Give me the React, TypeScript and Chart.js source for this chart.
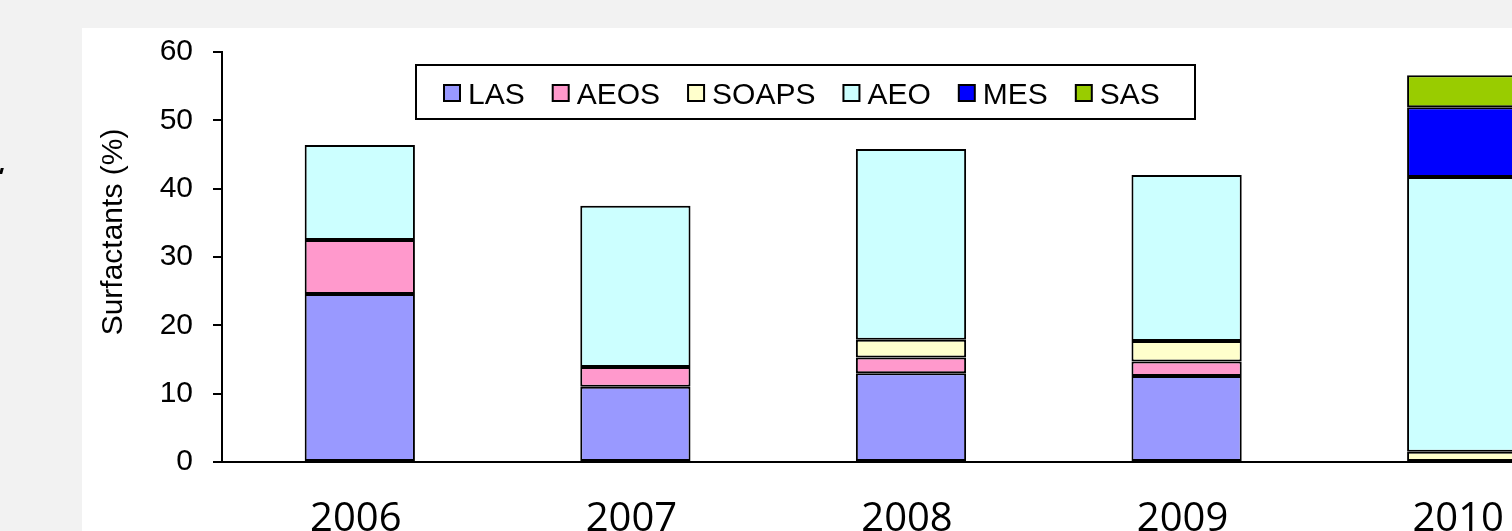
import React, { useEffect, useRef } from "react";
import { Chart, registerables } from "chart.js";

Chart.register(...registerables);

const years = ["2006", "2007", "2008", "2009", "2010"];
const LAS = [24.6, 11.0, 13.0, 12.6, null];
const AEOS = [7.9, 2.9, 2.3, 2.1, null];
const SOAPS = [null, null, 2.6, 3.0, 1.5];
const AEO = [13.9, 23.6, 27.9, 24.3, 40.2];
const MES = [null, null, null, null, 10.2];
const SAS = [null, null, null, null, 4.7];
const seriesNames = ["LAS", "AEOS", "SOAPS", "AEO", "MES", "SAS"];
const seriesValues = [LAS, AEOS, SOAPS, AEO, MES, SAS];
const seriesColors = ["#9999ff", "#ff99cc", "#ffffcc", "#ccffff", "#0000ff", "#99cc00"];
const yMin = 0;
const yMax = 60;
const yStep = 10;
const yTitle = "Surfactants (%)";

const ARIAL = '"Liberation Sans", Arial, sans-serif';

const legendPlugin = {
  id: "boxLegend",
  afterDraw(chart: any) {
    const { ctx, chartArea } = chart;
    ctx.save();
    const boxL = chartArea.left + 194;
    const boxT = chartArea.top + 13;
    const boxW = 779;
    const boxH = 54;
    ctx.fillStyle = "#ffffff";
    ctx.fillRect(boxL, boxT, boxW, boxH);
    ctx.strokeStyle = "#000000";
    ctx.lineWidth = 2;
    ctx.strokeRect(boxL, boxT, boxW, boxH);
    ctx.font = `30px ${ARIAL}`;
    ctx.textBaseline = "alphabetic";
    ctx.textAlign = "left";
    let x = boxL + 28;
    seriesNames.forEach((name, i) => {
      ctx.fillStyle = seriesColors[i];
      ctx.fillRect(x, boxT + 20, 16, 16);
      ctx.lineWidth = 2;
      ctx.strokeStyle = "#000000";
      ctx.strokeRect(x, boxT + 20, 16, 16);
      ctx.fillStyle = "#000000";
      const tx = x + 24;
      ctx.fillText(name, tx, boxT + 38.5);
      x = tx + ctx.measureText(name).width + 28;
    });
    ctx.restore();
  },
};

const yTitlePlugin = {
  id: "yTitleText",
  afterDraw(chart: any) {
    const { ctx } = chart;
    ctx.save();
    ctx.translate(32, 204);
    ctx.rotate(-Math.PI / 2);
    ctx.font = `30px ${ARIAL}`;
    ctx.fillStyle = "#000000";
    ctx.textAlign = "center";
    ctx.textBaseline = "middle";
    ctx.fillText(yTitle, 0, 0);
    ctx.restore();
  },
};

export default function App() {
  const canvasRef = useRef<HTMLCanvasElement | null>(null);

  useEffect(() => {
    if (!canvasRef.current) return;
    const chart = new Chart(canvasRef.current, {
      type: "bar",
      data: {
        labels: years,
        datasets: seriesNames.map((name, i) => ({
          label: name,
          data: seriesValues[i],
          backgroundColor: seriesColors[i],
          borderColor: "#000000",
          borderWidth: 2,
          borderSkipped: false,
          barPercentage: 0.4,
          categoryPercentage: 1,
        })),
      },
      options: {
        animation: false,
        responsive: true,
        maintainAspectRatio: false,
        layout: { padding: { left: 0, top: 24, right: 0, bottom: 0 } },
        plugins: {
          legend: { display: false },
          tooltip: { enabled: false },
          title: { display: false },
        },
        scales: {
          x: {
            stacked: true,
            grid: { display: false, drawTicks: false },
            border: { display: true, color: "#000000", width: 2 },
            ticks: {
              color: "#000000",
              font: { family: '"Open Sans", sans-serif', size: 40, lineHeight: 1 },
              padding: 38,
              labelOffset: -4,
              maxRotation: 0,
            },
            afterFit(scale: any) {
              scale.height = 86;
              scale.paddingLeft = 0;
              scale.paddingRight = 0;
            },
          },
          y: {
            stacked: true,
            min: yMin,
            max: yMax,
            grid: {
              display: true,
              drawOnChartArea: false,
              drawTicks: true,
              tickLength: 9,
              color: "#000000",
              lineWidth: 2,
            },
            border: { display: true, color: "#000000", width: 2 },
            ticks: {
              stepSize: yStep,
              color: "#000000",
              font: { family: ARIAL, size: 30 },
              padding: 20,
            },
            afterFit(scale: any) {
              scale.width = 140;
              scale.paddingTop = 0;
              scale.paddingBottom = 0;
            },
          },
        },
      },
      plugins: [legendPlugin, yTitlePlugin],
    });
    return () => chart.destroy();
  }, []);

  return (
    <div
      style={{
        position: "fixed",
        left: 0,
        top: 0,
        width: 1512,
        height: 531,
        overflow: "hidden",
        background: "#f2f2f2",
      }}
    >
      <div
        style={{
          position: "absolute",
          left: 0,
          top: 168,
          width: 3,
          height: 6,
          background: "#000000",
          transform: "skewX(-15deg)",
        }}
      />
      <div
        style={{
          position: "absolute",
          left: 82,
          top: 28,
          width: 1600,
          height: 600,
          background: "#ffffff",
        }}
      >
        <div style={{ position: "absolute", left: 0, top: 0, width: 1518, height: 520 }}>
          <canvas ref={canvasRef} />
        </div>
      </div>
    </div>
  );
}
